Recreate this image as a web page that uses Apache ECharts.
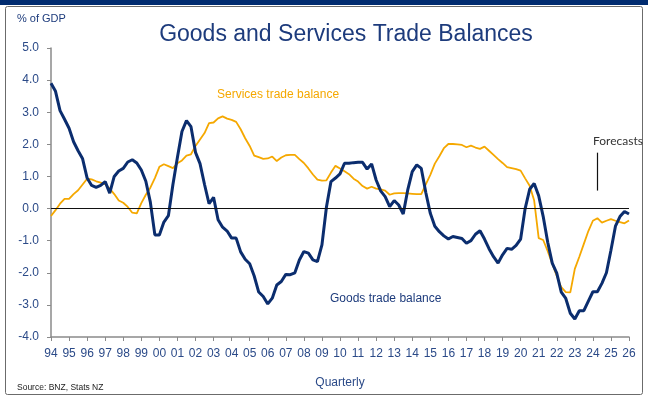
<!DOCTYPE html>
<html>
<head>
<meta charset="utf-8">
<script src="https://cdn.jsdelivr.net/npm/echarts@6/dist/echarts.min.js"></script>
<style>
html,body{margin:0;padding:0;background:#fff;}
#chart{width:648px;height:399px;}
</style>
</head>
<body>
<div id="chart"></div>
<script>
// Quarterly data, 1994Q1 .. 2026Q1 (% of GDP)
const startYear = 1994;
const goods = [
  3.9, 3.65, 3.05, 2.78, 2.5, 2.08, 1.8, 1.55,
  0.95, 0.72, 0.66, 0.72, 0.84, 0.48, 1.0, 1.17,
  1.25, 1.45, 1.52, 1.42, 1.2, 0.85, 0.2, -0.82,
  -0.82, -0.42, -0.22, 0.75, 1.6, 2.4, 2.74, 2.55,
  1.75, 1.4, 0.75, 0.15, 0.35, -0.35, -0.58, -0.7,
  -0.92, -0.92, -1.35, -1.58, -1.72, -2.1, -2.6, -2.74,
  -2.97, -2.79, -2.38, -2.27, -2.05, -2.06, -2.0, -1.6,
  -1.34, -1.39, -1.6, -1.65, -1.13, 0.05, 0.84, 0.95,
  1.08, 1.41, 1.41, 1.43, 1.44, 1.44, 1.23, 1.39,
  0.89, 0.55, 0.37, 0.06, 0.25, 0.11, -0.17, 0.58,
  1.15, 1.36, 1.25, 0.5, -0.15, -0.55, -0.72, -0.85,
  -0.95, -0.87, -0.9, -0.93, -1.08, -1.0, -0.8, -0.69,
  -0.95, -1.25, -1.5, -1.7, -1.44, -1.24, -1.27, -1.15,
  -0.95, 0.0, 0.6, 0.78, 0.4, -0.25, -1.05, -1.7,
  -2.01, -2.6, -2.8, -3.26, -3.44, -3.18, -3.18, -2.88,
  -2.59, -2.59, -2.33, -2.0, -1.3, -0.55, -0.25, -0.09,
  -0.17
];
const services = [
  -0.23, -0.05, 0.15, 0.3, 0.3, 0.45, 0.57, 0.75,
  0.93, 0.91, 0.85, 0.81, 0.76, 0.62, 0.45, 0.25,
  0.18, 0.05, -0.13, -0.15, 0.17, 0.43, 0.65, 0.95,
  1.3, 1.38, 1.32, 1.26, 1.41, 1.5, 1.65, 1.69,
  1.95, 2.15, 2.35, 2.66, 2.68, 2.81, 2.87, 2.8,
  2.76, 2.7, 2.47, 2.19, 1.95, 1.65, 1.6, 1.55,
  1.56, 1.62, 1.48, 1.59, 1.66, 1.67, 1.67, 1.54,
  1.42, 1.25, 1.06, 0.9, 0.87, 0.88, 1.12, 1.33,
  1.25, 1.16, 1.07, 0.93, 0.84, 0.7, 0.62, 0.68,
  0.62, 0.6, 0.56, 0.43, 0.47, 0.48, 0.48, 0.47,
  0.46, 0.45, 0.45, 0.75, 1.05, 1.4, 1.63, 1.88,
  2.01, 2.01, 2.0, 1.98, 1.91, 1.96, 1.9, 1.86,
  1.93, 1.8, 1.67, 1.54, 1.42, 1.29, 1.26, 1.23,
  1.18, 0.94, 0.71, 0.25, -0.92, -0.98, -1.33, -1.72,
  -2.1, -2.45, -2.6, -2.61, -1.88, -1.5, -1.1, -0.7,
  -0.38, -0.3, -0.44, -0.38, -0.33, -0.38, -0.42, -0.46,
  -0.37
];
const quarters = goods.map((_, i) => startYear + i / 4);
const yTicks = { min: -4, max: 5, interval: 1 };
const xRange = { min: 1994, max: 2026, interval: 1 };
const forecastStart = 2024.25;

const navy = '#0b2d6e';
const orange = '#f5a800';
const labelColor = '#2b4a88';

const chart = echarts.init(document.getElementById('chart'), null, { renderer: 'canvas' });
chart.setOption({
  animation: false,
  backgroundColor: '#ffffff',
  grid: { left: 51, right: 19, top: 48, bottom: 62, containLabel: false },
  title: {
    text: 'Goods and Services Trade Balances',
    left: 341, top: 18, textAlign: 'center',
    textStyle: { fontFamily: 'Liberation Sans', fontSize: 23, fontWeight: 'normal', color: '#1d3b7c' }
  },
  xAxis: {
    type: 'value', min: xRange.min, max: xRange.max, interval: xRange.interval,
    splitLine: { show: false },
    axisLine: { onZero: false, lineStyle: { color: '#8a8a8a', width: 1.5 } },
    axisTick: { show: true, length: 4, inside: false, lineStyle: { color: '#8a8a8a' } },
    axisLabel: {
      margin: 11, color: labelColor, fontFamily: 'Liberation Sans', fontSize: 12,
      formatter: v => String(Math.round(v) % 100).padStart(2, '0')
    },
    name: 'Quarterly', nameLocation: 'middle', nameGap: 40,
    nameTextStyle: { color: labelColor, fontFamily: 'Liberation Sans', fontSize: 12 }
  },
  yAxis: {
    type: 'value', min: yTicks.min, max: yTicks.max, interval: yTicks.interval,
    splitLine: { show: false },
    axisLine: { show: true, lineStyle: { color: '#8a8a8a', width: 1.5 } },
    axisTick: { show: true, length: 4, lineStyle: { color: '#8a8a8a' } },
    axisLabel: {
      margin: 12, color: labelColor, fontFamily: 'Liberation Sans', fontSize: 12,
      formatter: v => v.toFixed(1)
    }
  },
  series: [
    {
      name: 'Services trade balance', type: 'line', showSymbol: false, smooth: false,
      data: quarters.map((q, i) => [q, services[i]]),
      lineStyle: { color: orange, width: 1.8 }, itemStyle: { color: orange }, z: 2,
      markLine: {
        silent: true, symbol: 'none', label: { show: false },
        lineStyle: { color: '#111', width: 1.2, type: 'solid' },
        data: [
          { yAxis: 0 },
          [{ coord: [forecastStart, 1.74] }, { coord: [forecastStart, 0.56] }]
        ]
      }
    },
    {
      name: 'Goods trade balance', type: 'line', showSymbol: false, smooth: false,
      data: quarters.map((q, i) => [q, goods[i]]),
      lineStyle: { color: navy, width: 3 }, itemStyle: { color: navy }, z: 3
    }
  ],
  graphic: [
    { type: 'rect', shape: { x: 0, y: 0, width: 648, height: 5 }, style: { fill: '#002b6f' }, silent: true },
    { type: 'rect', shape: { x: 5.5, y: 6.5, width: 637, height: 388, r: 2 }, style: { fill: 'none', stroke: '#6b6b6b', lineWidth: 1 }, silent: true },
    { type: 'text', left: 17, top: 13, style: { text: '% of GDP', fill: '#1d3b7c', font: '11px "Liberation Sans"' } },
    { type: 'text', left: 217, top: 89, style: { text: 'Services trade balance', fill: orange, font: '12px "Liberation Sans"' } },
    { type: 'text', left: 330, top: 293, style: { text: 'Goods trade balance', fill: '#1d3b7c', font: '12px "Liberation Sans"' } },
    { type: 'text', left: 593, top: 135, style: { text: 'Forecasts', fill: '#333333', font: '12px Lato' } },
    { type: 'text', left: 17, top: 383, style: { text: 'Source: BNZ, Stats NZ', fill: '#222222', font: '8.5px "Liberation Sans"' } }
  ]
});
</script>
</body>
</html>
